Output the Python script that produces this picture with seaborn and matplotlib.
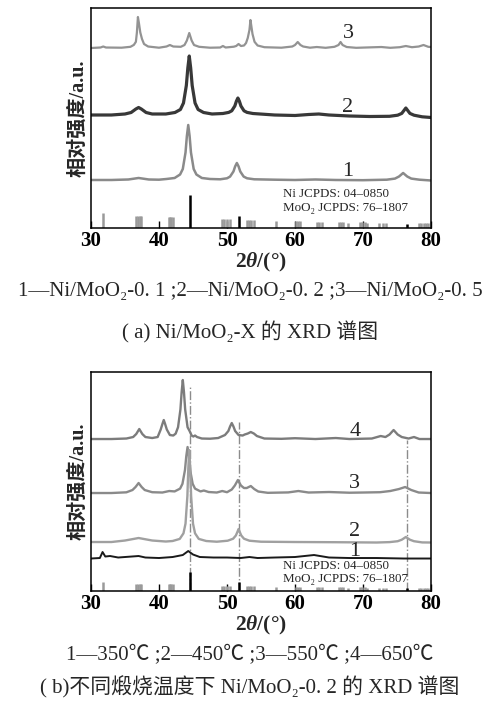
import numpy as np
import matplotlib
matplotlib.use("Agg")
import matplotlib.pyplot as plt
import seaborn as sns

# ---------------- DATA (heights in arbitrary units) ----------------
# panel (a): Ni/MoO2-X
a1_x = [30, 33, 35.5, 36.3, 37.0, 37.7, 38.5, 40, 41.1, 42.3, 43.1, 43.5, 43.9, 44.1, 44.3, 44.5, 44.7,
        45.1, 45.5, 46.3, 47.5, 49.0, 50.0, 50.45, 50.95, 51.2, 51.45, 51.7, 51.95, 52.45, 52.95, 54,
        57, 60, 63, 66, 70, 73.5, 74.7, 75.3, 75.9, 76.5, 77.1, 78.3, 80]
a1_y = [48, 48, 48.5, 49.3, 50, 49.3, 48.5, 48.3, 49, 50, 53.5, 59, 75.5, 92, 103, 92, 75.5,
        59, 53.5, 50, 49, 48.7, 49.7, 51.4, 56.5, 61.6, 65, 61.6, 56.5, 51.4, 49.7, 48.7,
        48.3, 48, 48.5, 48, 47.8, 48.3, 49.4, 51.5, 55, 51.5, 49.4, 48.3, 47.5]

a2_x = [30, 33, 35.0, 35.9, 36.3, 36.6, 37.0, 37.4, 37.7, 38.1, 39, 41.0, 42.35, 43.15, 43.6, 44.02,
        44.24, 44.45, 44.66, 44.88, 45.3, 45.75, 46.55, 47.8, 49.4, 50.25, 50.7, 51.15, 51.38, 51.6,
        51.82, 52.05, 52.5, 52.95, 53.8, 57, 60, 62, 63.5, 65, 68, 71, 73.9, 75.1, 75.7, 76.3, 76.9,
        77.5, 78.7, 80]
a2_y = [113, 113, 114, 115.5, 117.5, 119, 120.5, 119, 117.5, 115.5, 114, 114, 115.5, 118.5, 125, 142.5,
        160, 172, 160, 142.5, 125, 118.5, 115.5, 114, 114.5, 115.6, 117.2, 122, 126.8, 130,
        126.8, 122, 117.2, 115.6, 114.5, 113, 112.5, 113.5, 114, 113, 112, 111.5, 111.7, 112.8, 114.6, 120, 114.6,
        112.8, 111.2, 110.5]

a3_x = [30, 31.4, 31.8, 32.2, 34.5, 35.8, 36.3, 36.6, 36.75, 36.9, 37.05, 37.25, 37.5, 37.8, 38.4, 40,
        41.1, 41.6, 42.1, 43.2, 43.75, 44.1, 44.45, 44.8, 45.15, 45.9, 47.5, 49.0, 49.4, 49.8, 51.0,
        51.35, 51.7, 52.05, 52.5, 52.8, 53.05, 53.3, 53.45, 53.6, 53.75, 54.05, 54.5, 55.5, 58, 59.6,
        60.0, 60.4, 60.8, 61.2, 62.2, 63.2, 64.5, 65.8, 66.4, 66.7, 67.0, 67.6, 69, 72.7, 74, 75.4,
        76.3, 77.2, 78.2, 78.9, 79.6, 80]
a3_y = [180, 180.5, 181.5, 180.5, 180.3, 181.2, 183.1, 186.2, 195.5, 211, 204.8, 195.5, 189, 184, 181.5, 180.3,
        181.5, 183, 181.5, 181.2, 183, 187.5, 195, 187.5, 183, 181.2, 180.3, 180.5, 182, 180.5, 181.3,
        182, 184, 182, 182.5, 185, 190, 198, 208, 201, 194, 186.2, 182.5, 180.8, 180.3, 181.5,
        183, 186, 183, 181.5, 180.3, 181, 180.2, 181.2, 183, 186, 183, 181, 180.2, 181, 180.2, 180.8,
        182, 180.8, 181.5, 183, 181.2, 181]

# panel (b): calcination temperature
b4_x = [30, 33, 35.2, 36.2, 36.65, 37.1, 37.55, 38.0, 39.0, 39.8, 40.25, 40.5, 40.7, 40.9, 41.15, 41.6,
        42.1, 42.45, 42.8, 43.15, 43.33, 43.5, 43.67, 43.85, 44.2, 44.5, 44.8, 45.05, 45.3, 45.6, 46.3,
        47.5, 48.7, 49.7, 50.2, 50.45, 50.7, 50.95, 51.2, 51.7, 52.3, 52.6, 53.05, 53.5, 53.95, 54.4,
        55.5, 58, 60, 63, 66, 68, 71.3, 72.6, 73.3, 73.9, 74.5, 75.1, 75.7, 76.7, 77.5, 78.3, 80]
b4_y = [152, 152, 152.5, 154, 157, 162, 157, 154, 153, 154, 161.5, 167, 171, 167, 161.5, 156,
        155.5, 157.4, 163.8, 181.5, 199, 211, 199, 181.5, 163.8, 160, 155.5, 154.5, 155.5, 154, 152.5,
        152.3, 153, 156, 160, 164.5, 168, 164.5, 160, 156, 155.5, 156.5, 157.5, 159, 157.5, 155,
        152.5, 152.2, 152.8, 152, 153, 152, 152.5, 155, 154, 156.5, 161, 156.5, 154, 152.5, 154, 152, 152]

b3_x = [30, 33, 35.2, 36.1, 36.55, 37.0, 37.45, 37.9, 39, 40.5, 41.5, 42.3, 43.1, 43.45, 43.82, 44.01,
        44.2, 44.39, 44.58, 44.95, 45.3, 46.1, 46.6, 47.3, 48.5, 49.3, 50.0, 50.7, 51.15, 51.6, 52.05,
        52.5, 52.9, 53.5, 54.0, 54.6, 56, 59, 60.5, 62, 65, 68, 70, 72.5, 74.0, 75.3, 76.2, 77.1, 78.2, 80]
b3_y = [98, 98, 98.7, 101, 104, 108, 104, 101, 98.8, 98.5, 100, 99.6, 102.4, 107.2, 121, 134.8,
        144, 134.8, 121, 107.2, 102.4, 99.6, 100.5, 99, 98.5, 100, 98.8, 101.5, 105.5, 111, 105.5,
        103, 103, 105, 102, 99.5, 98.2, 98.6, 100, 98.5, 99, 98.3, 98.5, 98.8, 100, 102, 104, 101, 98.5, 98]

b2_x = [30, 33, 35, 37, 39, 41, 42.0, 43.05, 43.6, 43.9, 44.175, 44.31, 44.45, 44.59, 44.725, 45.0,
        45.3, 45.85, 46.95, 48.5, 50.1, 50.9, 51.3, 51.5, 51.7, 51.9, 52.1, 52.5, 53.3, 55, 60, 66,
        72, 73.9, 75.1, 75.7, 76.3, 76.9, 77.5, 78.7, 80]
b2_y = [49, 49, 50.5, 53, 50.5, 49.5, 50, 52.1, 57.7, 67.4, 95, 122.6, 141, 122.6, 95, 67.4,
        57.7, 52.1, 50, 49.3, 50.3, 52.3, 55.5, 58.6, 62, 58.6, 55.5, 52.3, 50.3, 49.3, 49, 48.8,
        48.5, 48.9, 49.8, 51.3, 54, 51.3, 49.8, 48.6, 48.5]

b1_x = [30, 31.3, 31.7, 32.1, 32.8, 34, 36, 37, 38, 40, 42, 43.5, 44.3, 45.0, 46, 48, 50, 52, 53.3, 54.5,
        57, 60, 62.8, 65, 68, 72, 76, 80]
b1_y = [32.5, 33, 39, 34.5, 35, 33.5, 34.5, 35, 33.5, 33, 34, 36, 40, 36.5, 34, 33.5, 33.5, 33, 34, 33,
        33.5, 34, 36, 33.5, 33, 33, 32.5, 32.5]

# reference patterns
ni_pos = [44.5, 51.8, 76.4]
ni_h_a = [33, 12, 4]
ni_h_b = [19, 9, 3]
moo2_pos = [31.7, 36.6, 36.9, 37.2, 37.4, 41.4, 41.6, 41.8, 42.0, 49.3, 49.6, 50.0, 50.5, 53.0, 53.3, 53.6,
            53.9, 57.2, 60.2, 60.5, 60.8, 63.3, 63.6, 63.9, 66.5, 66.8, 67.1, 67.8, 69.6, 69.9, 70.3, 70.6,
            72.4, 72.9, 73.4, 78.3, 78.6, 78.9, 79.3, 79.6]
moo2_h_a = [15, 12, 12, 12, 12, 11, 11, 11, 11, 9, 9, 9, 9, 8, 8, 8,
            8, 7, 7, 7, 7, 6, 6, 6, 6, 6, 6, 5, 6, 6, 6, 5,
            5, 5, 5, 5, 5, 5, 5, 5]
moo2_h_b = [9, 7.5, 7.5, 7.5, 7.5, 7, 7, 7, 7, 5.5, 5.5, 5.5, 5.5, 5, 5, 5,
            5, 4, 4, 4, 4, 4, 4, 4, 4, 4, 4, 3, 4, 4, 4, 3,
            3, 3, 3, 3, 3, 3, 3, 3]
guide_pos = [44.5, 51.8, 76.4]
guide_top = [204, 169, 151]

# ---------------- STYLE ----------------
sns.set_style("ticks")
plt.rcParams["font.family"] = ["Liberation Serif", "Noto Sans CJK SC", "DejaVu Serif"]
plt.rcParams["mathtext.fontset"] = "custom"
plt.rcParams["mathtext.rm"] = "Liberation Serif:bold"
plt.rcParams["mathtext.bf"] = "Liberation Serif:bold"
plt.rcParams["mathtext.it"] = "Liberation Serif:italic:bold"

fig = plt.figure(figsize=(5, 7.03), dpi=100)
ax_a = fig.add_axes([0.182, 0.6757, 0.68, 0.3129])
ax_b = fig.add_axes([0.182, 0.1593, 0.68, 0.3115])


def style_axis(ax, ymax):
    ax.set_xlim(30, 80)
    ax.set_ylim(0, ymax)
    ax.set_xticks([30, 40, 50, 60, 70, 80])
    ax.set_yticks([])
    ax.tick_params(axis="x", direction="in", length=5, width=1, pad=2,
                   labelsize=15, colors="black")
    for lbl in ax.get_xticklabels():
        lbl.set_fontweight("bold")
    for sp in ax.spines.values():
        sp.set_visible(True)
        sp.set_linewidth(1.1)
        sp.set_color("black")
    ax.set_xlabel(r"$\mathbf{2}\mathit{\theta}\mathbf{/(°)}$", fontsize=15.5, labelpad=0)
    ax.set_ylabel("相对强度/a.u.", fontsize=14.5, fontweight="bold", labelpad=2)


def draw_refs(ax, ni_h, moo2_h, ty1, ty2):
    ax.vlines(moo2_pos, 0, moo2_h, color="#9a9a9a", lw=1.8)
    ax.vlines(ni_pos, 0, ni_h, color="black", lw=1.8)
    ax.text(58.2, ty1, "Ni JCPDS: 04–0850", fontsize=9.4, va="center")
    ax.text(58.2, ty2, "MoO₂ JCPDS: 76–1807", fontsize=9.4, va="center")


# ---------------- PANEL (a) ----------------
for xs, ys, col, lw in [(a1_x, a1_y, "#8a8a8a", 1.8), (a2_x, a2_y, "#383838", 2.3), (a3_x, a3_y, "#939393", 1.6)]:
    sns.lineplot(x=xs, y=ys, ax=ax_a, color=col, lw=lw, sort=False, estimator=None)
draw_refs(ax_a, ni_h_a, moo2_h_a, 34, 20)
for lab, ly in [("1", 56), ("2", 120), ("3", 195)]:
    ax_a.text(67.8, ly, lab, fontsize=16, ha="center", va="center")
style_axis(ax_a, 220)

# ---------------- PANEL (b) ----------------
ax_b.vlines(guide_pos, 0, guide_top, color="#8c8c8c", lw=1.0, linestyles="-.")
for xs, ys, col, lw in [(b4_x, b4_y, "#7c7c7c", 1.7), (b3_x, b3_y, "#8a8a8a", 1.7),
                        (b2_x, b2_y, "#a0a0a0", 1.7), (b1_x, b1_y, "#1a1a1a", 1.4)]:
    sns.lineplot(x=xs, y=ys, ax=ax_b, color=col, lw=lw, sort=False, estimator=None)
draw_refs(ax_b, ni_h_b, moo2_h_b, 25, 12)
for lab, ly in [("1", 40), ("2", 60), ("3", 108), ("4", 160)]:
    ax_b.text(68.8, ly, lab, fontsize=16, ha="center", va="center")
style_axis(ax_b, 219)

# ---------------- CAPTIONS ----------------
H = 703.0
fig.text(0.5, 1 - 292 / H, "1—Ni/MoO₂-0. 1 ;2—Ni/MoO₂-0. 2 ;3—Ni/MoO₂-0. 5",
         ha="center", va="center", fontsize=15)
fig.text(0.5, 1 - 332 / H, "( a) Ni/MoO₂-X 的 XRD 谱图", ha="center", va="center", fontsize=15)
fig.text(0.5, 1 - 655 / H, "1—350℃ ;2—450℃ ;3—550℃ ;4—650℃",
         ha="center", va="center", fontsize=15)
fig.text(0.5, 1 - 687 / H, "( b)不同煅烧温度下 Ni/MoO₂-0. 2 的 XRD 谱图",
         ha="center", va="center", fontsize=15)

fig.savefig("out.png", dpi=100)
